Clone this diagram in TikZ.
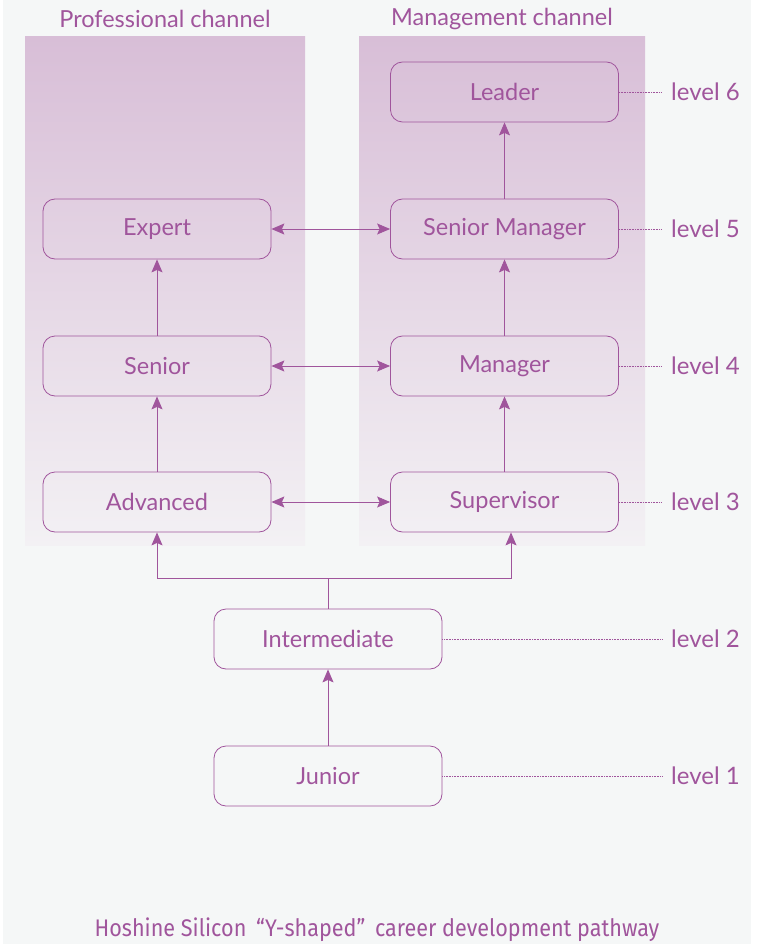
\documentclass[tikz,border=0pt]{standalone}
\usepackage{fontspec}
\setmainfont{Lato}
\newfontfamily\capfont[FakeStretch=0.9]{Fira Sans}
\usetikzlibrary{arrows.meta}
\usetikzlibrary{calc,positioning}

\definecolor{plum}{HTML}{A0559C}
\definecolor{paper}{HTML}{F5F7F7}
\definecolor{lilac}{HTML}{D8BED7}
\definecolor{lilacfade}{HTML}{F3F1F4}

\tikzset{
    post/.style={draw=plum, rounded corners=12pt, minimum width=228pt, minimum height=60pt,
        text=plum, font=\fontsize{23.5}{26}\selectfont, line width=0.8pt},
    lvl/.style={text=plum, font=\fontsize{24}{26}\selectfont, anchor=west, inner sep=0pt},
    head/.style={text=plum, font=\fontsize{23.5}{26}\selectfont},
    link/.style={draw=plum, line width=0.9pt},
    tie/.style={draw=plum, densely dotted, line width=0.6pt},
}

\begin{document}
\begin{tikzpicture}[x=1pt, y=-1pt, >={Stealth[length=13pt,width=11pt,inset=2.5pt]}]

    \useasboundingbox (0,0) rectangle (758,944);
    \fill[white] (0,0) rectangle (758,944);
    \fill[paper] (3,0) rectangle (751,944);

    % the two channels
    \shade[top color=lilac, bottom color=lilacfade] (25,37) rectangle (305,545);
    \shade[top color=lilac, bottom color=lilacfade] (359,37) rectangle (645,545);
    \node[head] (pro) at (165,19) {Professional channel};
    \node[head] (mgt) at (502,19) {Management channel};

    % posts
    \node[post] (expert)   at (157,229) {Expert};
    \node[post] (senior)   at (157,366) {Senior};
    \node[post] (advanced) at (157,502) {Advanced};
    \node[post] (leader)   at (504.5,92)  {Leader};
    \node[post] (smanager) at (504.5,229) {Senior Manager};
    \node[post] (manager)  at (504.5,366) {Manager};
    \node[post] (super)    at (504.5,502) {Supervisor};
    \node[post] (inter)    at (328,639) {Intermediate};
    \node[post] (junior)   at (328,776) {Junior};

    % levels
    \foreach \n/\y/\k in {leader/92/6, smanager/229/5, manager/366/4, super/502/3, inter/639/2, junior/776/1} {
        \node[lvl] (lv\k) at (671,\y) {level \k};
        \draw[tie] (\n.east) -- ($(lv\k.west)+(-9,0)$);
    }

    % promotion
    \draw[link,->] (junior) -- (inter);
    \draw[link,->] (advanced) -- (senior);
    \draw[link,->] (senior) -- (expert);
    \draw[link,->] (super) -- (manager);
    \draw[link,->] (manager) -- (smanager);
    \draw[link,->] (smanager) -- (leader);

    % the fork
    \coordinate (fork) at (328,578);
    \draw[link,->] (inter.north) -- (fork) -| (advanced.south);
    \draw[link,->] (fork) -| ($(super.south)+(6.5,0)$);

    % switching channels
    \draw[link,<->] (expert) -- (smanager);
    \draw[link,<->] (senior) -- (manager);
    \draw[link,<->] (advanced) -- (super);

    \node[text=plum, font=\capfont\fontsize{24}{26}\selectfont] (cap) at (377,930)
        {Hoshine Silicon \,“Y-shaped”\, career development pathway};

\end{tikzpicture}
\end{document}
